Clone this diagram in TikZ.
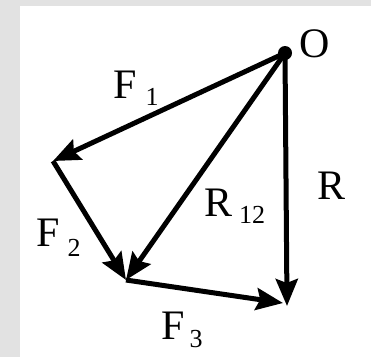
\documentclass[tikz,border=0pt]{standalone}
\usepackage{fontspec}
\setmainfont{Liberation Serif}
\usetikzlibrary{arrows.meta}
\definecolor{bggray}{HTML}{E2E2E2}
\tikzset{
  vec/.style={line width=5pt,-{Stealth[length=27pt,width=22pt,inset=4pt]}},
  lab/.style={inner sep=0pt,font=\fontsize{42}{42}\selectfont},
  sub/.style={inner sep=0pt,font=\fontsize{26}{26}\selectfont}
}
\begin{document}
\begin{tikzpicture}[x=1pt,y=-1pt]
\useasboundingbox (0,0) rectangle (371,357);
\fill[bggray] (0,0) rectangle (371,357);
\fill[white] (20,6) rectangle (371,357);
\coordinate (O) at (285,53);
\coordinate (A) at (53,161);
\coordinate (B) at (126,280);
\coordinate (C) at (283,303);
\coordinate (D) at (287,306);
\draw[vec] (O) -- (A);
\draw[vec] (A) -- (B);
\draw[vec] (O) -- (B);
\draw[vec] (B) -- (C);
\draw[vec] (O) -- (D);
\fill (O) circle (7);
\node[lab] (lO) at (315,44) {O};
\node[lab] (lF1) at (125,85) {F};
\node[sub] (s1) at (152,97) {1};
\node[lab] (lR) at (331,186) {R};
\node[lab] (lR12) at (219,203) {R};
\node[sub] (s12) at (252,215) {12};
\node[lab] (lF2) at (48,233) {F};
\node[sub] (s2) at (74,248) {2};
\node[lab] (lF3) at (173,326) {F};
\node[sub] (s3) at (196,339) {3};
\end{tikzpicture}
\end{document}
